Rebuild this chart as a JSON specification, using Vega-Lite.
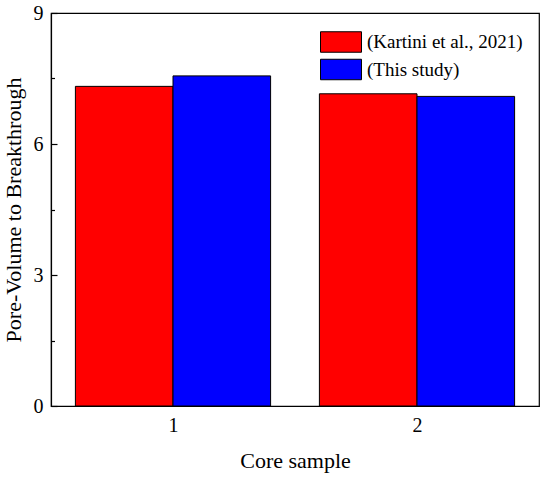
{
  "$schema": "https://vega.github.io/schema/vega-lite/v6.json",
  "description": "Pore-volume to breakthrough by core sample",
  "width": 488,
  "height": 393,
  "autosize": "none",
  "padding": {"left": 51, "top": 13, "right": 11, "bottom": 72},
  "config": {
    "font": "Liberation Serif",
    "view": {"stroke": "black", "strokeWidth": 1.2},
    "axis": {
      "domainColor": "black",
      "tickColor": "black",
      "labelColor": "black",
      "titleColor": "black",
      "labelFont": "Liberation Serif",
      "titleFont": "Liberation Serif",
      "titleFontWeight": "normal",
      "grid": false
    }
  },
  "data": {
    "values": [
      {"sample": 1, "source": "(Kartini et al., 2021)", "pv": 7.32},
      {"sample": 1, "source": "(This study)", "pv": 7.56},
      {"sample": 2, "source": "(Kartini et al., 2021)", "pv": 7.15},
      {"sample": 2, "source": "(This study)", "pv": 7.09}
    ]
  },
  "layer": [
    {
      "mark": {"type": "bar", "stroke": "black", "strokeWidth": 1},
      "encoding": {
        "x": {
          "field": "sample",
          "type": "nominal",
          "scale": {"paddingInner": 0.2, "paddingOuter": 0.1},
          "axis": null
        },
        "xOffset": {
          "field": "source",
          "type": "nominal",
          "sort": ["(Kartini et al., 2021)", "(This study)"],
          "scale": {"paddingInner": 0, "paddingOuter": 0}
        },
        "y": {
          "field": "pv",
          "type": "quantitative",
          "scale": {"domain": [0, 9], "nice": false},
          "axis": {
            "title": "Pore-Volume to Breakthrough",
            "titleFontSize": 22,
            "titlePadding": 8,
            "labelFontSize": 20,
            "labelPadding": 14,
            "values": [0, 1.5, 3, 4.5, 6, 7.5, 9],
            "labelExpr": "datum.value % 3 == 0 ? datum.label : ''",
            "tickSize": {"condition": {"test": "datum.value % 3 == 0", "value": -6}, "value": -3.5},
            "domainWidth": 1.2,
            "tickWidth": 1.2
          }
        },
        "color": {
          "field": "source",
          "type": "nominal",
          "sort": ["(Kartini et al., 2021)", "(This study)"],
          "scale": {"range": ["#ff0000", "#0000ff"]},
          "legend": {
            "title": null,
            "orient": "none",
            "legendX": 279,
            "legendY": 18,
            "padding": 0,
            "rowPadding": 1.5,
            "symbolType": "M-2,-1H2V1H-2Z",
            "symbolSize": 420,
            "symbolStrokeColor": "black",
            "symbolStrokeWidth": 1,
            "symbolOpacity": 1,
            "labelFont": "Liberation Serif",
            "labelFontSize": 19,
            "labelColor": "black",
            "labelOffset": 15,
            "labelLimit": 300
          }
        }
      }
    },
    {
      "mark": {"type": "tick", "opacity": 0},
      "encoding": {
        "x": {
          "field": "sample",
          "type": "quantitative",
          "scale": {"domain": [0.5, 2.5], "nice": false, "zero": false},
          "axis": {
            "title": "Core sample",
            "titleFontSize": 22,
            "titlePadding": 15,
            "labelFontSize": 20,
            "labelPadding": 15,
            "format": "d",
            "values": [1, 1.5, 2],
            "labelExpr": "datum.value % 1 == 0 ? datum.label : ''",
            "tickSize": {"condition": {"test": "datum.value % 1 == 0", "value": -6}, "value": -3.5},
            "domainWidth": 1.2,
            "tickWidth": 1.2
          }
        }
      }
    }
  ],
  "resolve": {"scale": {"x": "independent"}}
}
